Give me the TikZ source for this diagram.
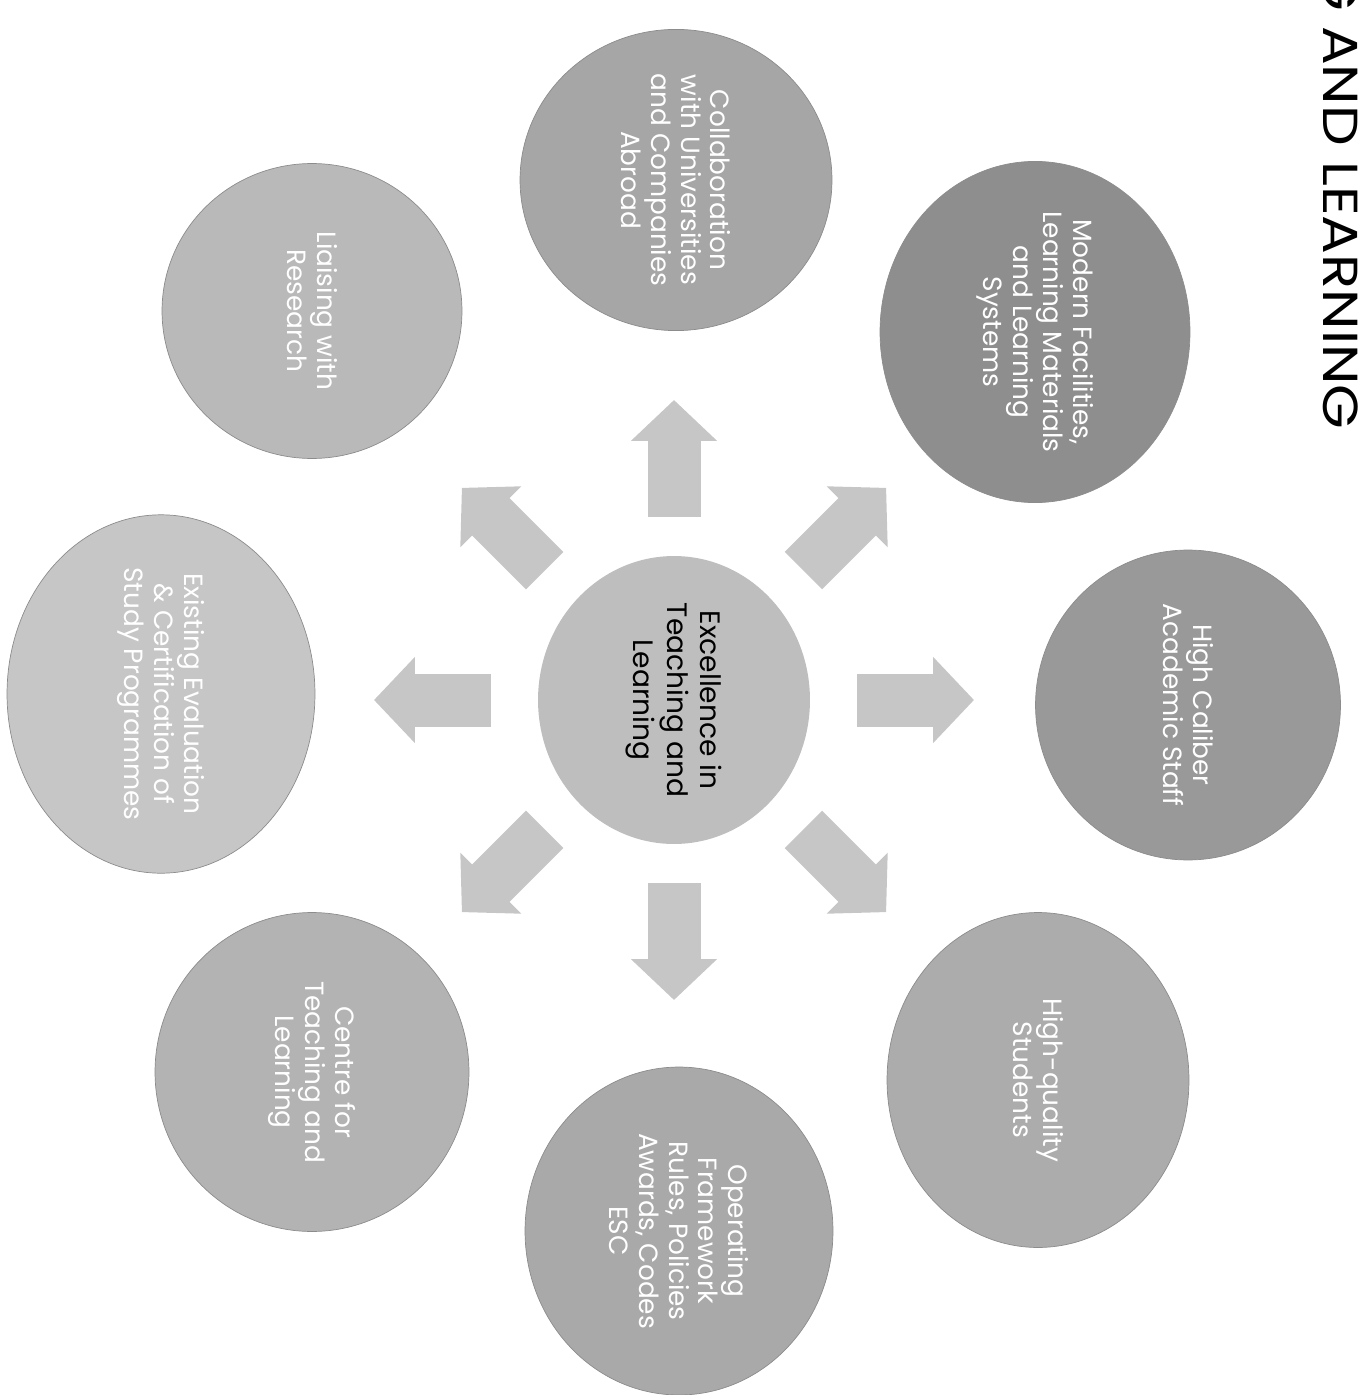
\documentclass[tikz,border=0pt]{standalone}
\usepackage{fontspec}
\setmainfont{Poppins}
\usetikzlibrary{shapes.geometric,arrows.meta,calc}
\definecolor{arrowgray}{RGB}{198,198,198}
\definecolor{coregray}{RGB}{190,190,190}
\definecolor{collabgray}{RGB}{166,166,166}
\definecolor{moderngray}{RGB}{142,142,142}
\definecolor{calibergray}{RGB}{153,153,153}
\definecolor{studentgray}{RGB}{172,172,172}
\definecolor{operategray}{RGB}{169,169,169}
\definecolor{centregray}{RGB}{179,179,179}
\definecolor{existgray}{RGB}{198,198,198}
\definecolor{liaisegray}{RGB}{185,185,185}

\begin{document}
\begin{tikzpicture}[x=0.02cm, y=-0.02cm,
	bubble/.style={ellipse, draw=black!45, line width=0.4pt, inner sep=0pt, rotate=-90, align=center, text=white, font=\fontsize{15}{17}\selectfont},
	blockarrow/.style={draw=arrowgray, line width=1.06cm, -{Triangle[width=1.68cm,length=0.82cm]}, shorten <=3.66cm}]
			\useasboundingbox (0,0) rectangle (1359,1395);
			\clip (0,0) rectangle (1359,1395);
			\node [bubble, fill=coregray, draw=none, text=black, font=\fontsize{16}{19}\selectfont, minimum width=5.76cm, minimum height=5.44cm] (ctr) at (674,700) {Excellence in\\Teaching and\\Learning};
			\node [bubble, fill=collabgray, minimum width=5.92cm, minimum height=6.24cm] (collab) at (676,180) {Collaboration\\with Universities\\and Companies\\Abroad};
			\node [bubble, fill=moderngray, minimum width=6.6cm, minimum height=6.2cm] (modern) at (1035,332) {Modern Facilities,\\Learning Materials\\and Learning\\Systems};
			\node [bubble, fill=calibergray, minimum width=6.2cm, minimum height=6.1cm] (caliber) at (1188,705) {High Caliber\\Academic Staff};
			\node [bubble, fill=studentgray, minimum width=6.7cm, minimum height=6.04cm] (students) at (1038,1080) {High-quality\\Students};
			\node [bubble, fill=operategray, minimum width=6.56cm, minimum height=6.16cm] (operating) at (679,1231) {Operating\\Framework\\Rules, Policies\\Awards, Codes\\ESC};
			\node [bubble, fill=centregray, minimum width=6.38cm, minimum height=6.28cm] (centre) at (312,1072) {Centre for\\Teaching and\\Learning};
			\node [bubble, fill=existgray, minimum width=6.1cm, minimum height=6.16cm] (existing) at (161,694) {Existing Evaluation\\\& Certification of\\Study Programmes};
			\node [bubble, fill=liaisegray, minimum width=5.9cm, minimum height=6.0cm] (liaising) at (312,311) {Liaising with\\Research};
			\foreach \ang in {0,45,...,315}{
				\coordinate (tip\ang) at ($(ctr.center)+(\ang:300)$);
				\draw [blockarrow] (ctr.center) -- (tip\ang);
			}
			\node [rotate=-90, xscale=1.17, anchor=base east, inner sep=0pt, font=\fontsize{28}{30}\selectfont] (heading) at (1323,430) {G AND LEARNING};
		\end{tikzpicture}
\end{document}
